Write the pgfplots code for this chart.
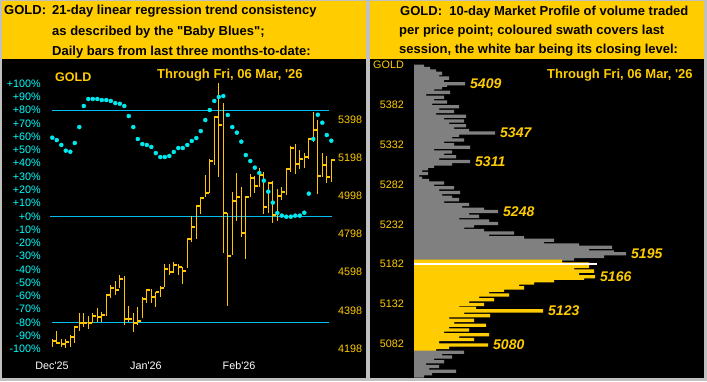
\documentclass[border=0pt]{standalone}
\usepackage{fontspec}
\setmainfont{Liberation Sans}
\usepackage{pgfplots}
\pgfplotsset{compat=1.18}
\usepackage{pgfplotstable}

\definecolor{framegray}{RGB}{192,192,192}
\definecolor{gold}{RGB}{255,204,0}
\definecolor{barcol}{RGB}{255,198,0}
\definecolor{linecol}{RGB}{0,190,240}
\definecolor{dotcol}{RGB}{0,235,240}
\definecolor{pctcol}{RGB}{0,255,255}
\definecolor{profgray}{RGB}{128,128,128}

\pgfdeclareplotmark{rtick}{%
  \pgfsetlinewidth{2pt}\pgfsetbuttcap
  \pgfpathmoveto{\pgfqpoint{0pt}{0pt}}%
  \pgfpathlineto{\pgfqpoint{3.6pt}{0pt}}%
  \pgfusepathqstroke}

\newcommand\tickfont{\fontsize{10.8}{12}\selectfont}
\newcommand\headfont{\fontsize{13}{14}\selectfont\bfseries}

\pgfplotstableread{
x c hi lo
1 4240.0 4247.0 4205.1
2 4229.6 4290.6 4226.1
3 4220.8 4247.0 4205.1
4 4234.8 4247.0 4199.9
5 4260.9 4267.9 4208.6
6 4309.7 4316.7 4229.6
7 4330.7 4383.0 4292.3
8 4334.2 4383.0 4313.2
9 4334.2 4369.0 4299.3
10 4369.0 4383.0 4330.7
11 4365.5 4409.1 4339.4
12 4372.5 4391.7 4339.4
13 4478.9 4482.3 4369.0
14 4517.3 4529.5 4461.5
15 4506.8 4553.9 4477.2
16 4564.3 4581.8 4517.3
17 4351.6 4578.3 4320.2
18 4355.1 4421.3 4339.4
19 4334.2 4383.0 4287.1
20 4344.7 4417.8 4322.0
21 4459.7 4470.1 4356.8
22 4505.1 4508.6 4438.8
23 4470.1 4508.6 4435.3
24 4492.8 4492.8 4417.8
25 4515.5 4526.0 4466.7
26 4613.2 4641.1 4522.5
27 4597.5 4641.1 4581.8
28 4637.6 4651.5 4592.3
29 4623.6 4641.1 4583.5
30 4602.7 4625.4 4538.2
31 4770.1 4770.1 4621.9
32 4836.4 4892.1 4757.9
33 4944.5 4944.5 4771.8
34 4984.6 4991.5 4902.6
35 5010.7 5104.9 4989.8
36 5181.6 5190.3 5010.7
37 5411.8 5411.8 5157.2
38 5369.9 5589.6 5097.9
39 4909.6 5485.0 4700.3
40 4682.9 4906.1 4423.1
41 4972.4 5017.7 4688.1
42 4989.8 5118.8 4867.7
43 4801.5 5045.6 4780.5
44 4993.3 4996.8 4669.0
45 5089.2 5111.9 4989.8
46 5049.1 5101.4 5014.2
47 5106.6 5141.5 5042.1
48 4941.0 5120.6 4902.6
49 5066.5 5070.0 4909.6
50 4897.4 5075.2 4857.3
51 4998.5 5033.4 4867.7
52 5019.4 5043.8 4974.1
53 5136.3 5138.0 5003.7
54 5249.6 5256.6 5124.1
55 5162.4 5267.0 5113.6
56 5188.6 5239.1 5139.8
57 5202.5 5220.0 5145.0
58 5296.7 5300.2 5188.6
59 5342.0 5437.9 5279.2
60 5103.1 5394.3 5009.0
61 5157.2 5221.7 5094.4
62 5097.9 5206.0 5063.0
63 5185.1 5185.1 5071.7
}\bars

\pgfplotstableread{
x p
1 59.3
2 57.5
3 53.8
4 49.5
5 48.7
6 55.3
7 67.3
8 83.2
9 88.5
10 88.5
11 88.5
12 87.7
13 87.7
14 87.0
15 85.4
16 84.9
17 83.2
18 75.6
19 67.3
20 58.3
21 54.5
22 53.8
23 52.3
24 47.7
25 44.7
26 44.7
27 45.5
28 48.5
29 51.5
30 51.5
31 53.8
32 56.8
33 59.0
34 64.3
35 72.6
36 80.2
37 87.0
38 90.0
39 90.7
40 76.4
41 67.3
42 63.1
43 56.3
44 46.2
45 41.7
46 36.7
47 32.7
48 26.9
49 18.6
50 10.3
51 2.5
52 0.5
53 -0.3
54 -0.3
55 0.5
56 0.5
57 2.7
58 17.1
59 58.3
60 76.6
61 70.6
62 61.3
63 57.0
}\blues

\pgfplotsset{
  leftax/.style={at={(50pt,25pt)}, anchor=south west, scale only axis,
    width=285pt, height=296pt, xmin=0.489, xmax=63.822,
    axis line style={draw=none}, major tick length=0pt, clip=false},
  pctax/.style={leftax, ymin=-105.4, ymax=117.9},
  priceax/.style={leftax, ymin=4159.8, ymax=5708.2}
}

\begin{document}
\begin{tikzpicture}[x=1pt,y=1pt]
% frame and panels
\fill[framegray] (0,0) rectangle (707,381);
\fill[black] (2,3) rectangle (366,380);
\fill[black] (370,3) rectangle (704,380);
\fill[gold] (2,321.5) rectangle (366,380);
\fill[gold] (370,321.5) rectangle (704,380);

% headers
\node[anchor=base west, inner sep=0pt, font=\headfont] at (4,366) {GOLD:};
\node[anchor=base west, inner sep=0pt, font=\headfont] at (52,366) {21-day linear regression trend consistency};
\node[anchor=base west, inner sep=0pt, font=\headfont] at (52,345.5) {as described by the \textquotedbl Baby Blues\textquotedbl;};
\node[anchor=base west, inner sep=0pt, font=\headfont] at (52,325.5) {Daily bars from last three months-to-date:};

\node[anchor=base west, inner sep=0pt, font=\headfont] at (400,365) {GOLD:\ \ 10-day Market Profile of volume traded};
\node[anchor=base west, inner sep=0pt, font=\headfont] at (399,346) {per price point; coloured swath covers last};
\node[anchor=base west, inner sep=0pt, font=\headfont] at (399,327.5) {session, the white bar being its closing level:};

% left panel titles
\node[anchor=base west, inner sep=0pt, text=gold, font=\fontsize{12.5}{13}\selectfont\bfseries] at (55,299.3) {GOLD};
\node[anchor=base west, inner sep=0pt, text=gold, font=\fontsize{13}{14}\selectfont\bfseries] at (157,302.7) {Through Fri, 06 Mar, \textquotesingle26};

% percent axis with reference lines and date labels
\begin{axis}[pctax,
  ytick={-100,-90,...,100},
  yticklabels={-100\%,-90\%,-80\%,-70\%,-60\%,-50\%,-40\%,-30\%,-20\%,-10\%,+0\%,+10\%,+20\%,+30\%,+40\%,+50\%,+60\%,+70\%,+80\%,+90\%,+100\%},
  yticklabel style={text=pctcol, font=\tickfont, anchor=east, inner sep=0pt, xshift=-9pt},
  xtick={0.93,21.8,42.5},
  xticklabels={Dec\textquotesingle25,Jan\textquotesingle26,Feb\textquotesingle26},
  xticklabel style={text=white, font=\tickfont, anchor=base, yshift=-13pt},
]
\addplot[linecol, line width=1pt] coordinates {(0.87,80) (62.5,80)};
\addplot[linecol, line width=1pt] coordinates {(0.49,0) (63.1,0)};
\addplot[linecol, line width=1pt] coordinates {(0.87,-80) (62.5,-80)};
\end{axis}

% price axis with OHLC bars
\begin{axis}[priceax,
  xtick=\empty,
  ytick={4198,4398,4598,4798,4998,5198,5398},
  yticklabels={4198,4398,4598,4798,4998,5198,5398},
  yticklabel pos=right,
  yticklabel style={text=gold, font=\tickfont, anchor=west, inner sep=0pt, xshift=3pt},
]
\addplot[barcol, only marks, mark=rtick, mark options={barcol},
  error bars/.cd, y dir=both, y explicit, error mark=none,
  error bar style={line width=1.1pt, barcol}]
  table[x=x, y=c, y error plus expr=\thisrow{hi}-\thisrow{c}, y error minus expr=\thisrow{c}-\thisrow{lo}] {\bars};
\end{axis}

% baby blues dots
\begin{axis}[pctax, xtick=\empty, ytick=\empty]
\addplot[only marks, mark=*, mark size=2pt, dotcol] table[x=x, y=p] {\blues};
\end{axis}

% right panel: market profile
\node[anchor=base east, inner sep=0pt, text=gold, font=\tickfont] at (404,312) {GOLD};
\node[anchor=base west, inner sep=0pt, text=gold, font=\fontsize{13}{14}\selectfont\bfseries] at (547,302.5) {Through Fri, 06 Mar, \textquotesingle26};

\begin{axis}[at={(414pt,3pt)}, anchor=south west, scale only axis,
  width=286pt, height=318pt, xmin=0, xmax=286, ymin=5038.5, ymax=5438.8,
  axis line style={draw=none}, major tick length=0pt, clip=false,
  xtick=\empty,
  ytick={5082,5132,5182,5232,5282,5332,5382},
  yticklabels={5082,5132,5182,5232,5282,5332,5382},
  yticklabel style={text=gold, font=\tickfont, anchor=east, inner sep=0pt, xshift=-10pt},
]
\addplot[xbar, bar width=4.2, bar shift=0pt, fill=profgray, draw=none] coordinates {
(10,5431)(16,5428)(22,5425)(28,5422)(25,5419)(35,5416)(30,5413)(51,5409)(33,5407)(28,5404)
(20,5401)(36,5398)(12,5395)(30,5392)(20,5389)(33,5386)(18,5383)(45,5380)(25,5377)(40,5374)
(22,5371)(52,5368)(30,5365)(50,5362)(35,5359)(52,5356)(40,5353)(55,5350)(81,5347)(45,5344)
(38,5341)(50,5338)(30,5335)(40,5332)(56,5329)(20,5326)(38,5323)(30,5320)(42,5317)(25,5314)
(56,5311)(38,5308)(20,5305)(14,5302)(8,5299)(14,5296)(5,5293)(8,5290)(15,5287)(30,5284)
(20,5281)(40,5278)(25,5275)(46,5272)(28,5269)(38,5266)(45,5263)(30,5260)(55,5257)(48,5254)
(70,5251)(84,5248)(55,5245)(65,5242)(45,5239)(75,5236)(84,5233)(60,5230)(50,5227)(70,5224)
(100,5221)(75,5218)(110,5215)(140,5212)(130,5209)(165,5206)(198,5203)(175,5200)(200,5197)(212,5195)
(190,5191.5)(160,5188.5)
};
\addplot[xbar, bar width=4.2, bar shift=0pt, fill=gold, draw=none] coordinates {
(148,5185.5)(175,5182)(175,5179)(160,5176)(180,5173)(165,5170)(181,5166)(170,5164)(140,5161)(120,5158)
(105,5155)(110,5152)(90,5149)(75,5146)(95,5143)(65,5140)(80,5137)(55,5134)(70,5131)(45,5128)
(62,5126)(129,5123)(50,5120)(76,5117)(35,5114)(60,5111)(40,5108)(72,5105)(35,5102)(55,5099)
(30,5096)(75,5093)(45,5090)(60,5087)(25,5084)(74,5080)(35,5077)(22,5074)
};
\addplot[xbar, bar width=1.9, bar shift=0pt, fill=white, draw=none] coordinates {(183,5182)};
\addplot[xbar, bar width=4.2, bar shift=0pt, fill=profgray, draw=none] coordinates {
(50,5071)(28,5068)(38,5065)(20,5062)(30,5059)(12,5056)(25,5053)(15,5050)(42,5047)(18,5044)(10,5041)
};
\node[anchor=west, inner sep=0pt, text=gold, font=\fontsize{14}{14}\selectfont\bfseries\itshape] at (axis cs:56,5409) {5409};
\node[anchor=west, inner sep=0pt, text=gold, font=\fontsize{14}{14}\selectfont\bfseries\itshape] at (axis cs:86,5347) {5347};
\node[anchor=west, inner sep=0pt, text=gold, font=\fontsize{14}{14}\selectfont\bfseries\itshape] at (axis cs:61,5311) {5311};
\node[anchor=west, inner sep=0pt, text=gold, font=\fontsize{14}{14}\selectfont\bfseries\itshape] at (axis cs:89,5248) {5248};
\node[anchor=west, inner sep=0pt, text=gold, font=\fontsize{14}{14}\selectfont\bfseries\itshape] at (axis cs:217,5195) {5195};
\node[anchor=west, inner sep=0pt, text=gold, font=\fontsize{14}{14}\selectfont\bfseries\itshape] at (axis cs:186,5166) {5166};
\node[anchor=west, inner sep=0pt, text=gold, font=\fontsize{14}{14}\selectfont\bfseries\itshape] at (axis cs:134,5123) {5123};
\node[anchor=west, inner sep=0pt, text=gold, font=\fontsize{14}{14}\selectfont\bfseries\itshape] at (axis cs:79,5080) {5080};
\end{axis}
\end{tikzpicture}
\end{document}
